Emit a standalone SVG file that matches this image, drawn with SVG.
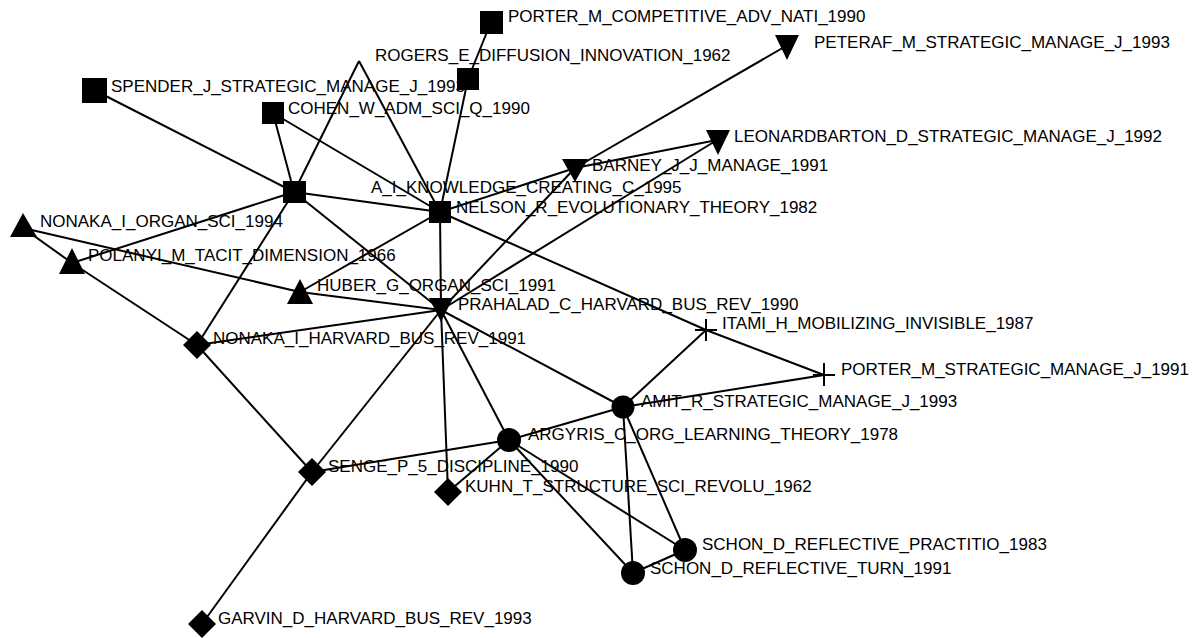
<svg xmlns="http://www.w3.org/2000/svg" width="1200" height="638" viewBox="0 0 1200 638">
<style>
.e{stroke:#000;stroke-width:2;fill:none}
.n{fill:#000}
.p{stroke:#000;stroke-width:2;fill:none}
text{font-family:"Liberation Sans",Arial,sans-serif;font-size:17px;fill:#000}
</style>
<rect width="1200" height="638" fill="#fff"/>
<g id="connectors">
<line class="e" x1="294" y1="192" x2="94" y2="90"/>
<line class="e" x1="294" y1="192" x2="273" y2="113"/>
<line class="e" x1="294" y1="192" x2="359" y2="61"/>
<line class="e" x1="294" y1="192" x2="440" y2="212"/>
<line class="e" x1="294" y1="192" x2="441" y2="310"/>
<line class="e" x1="294" y1="192" x2="197" y2="345"/>
<line class="e" x1="294" y1="192" x2="72" y2="263"/>
<line class="e" x1="273" y1="113" x2="440" y2="212"/>
<line class="e" x1="359" y1="61" x2="440" y2="212"/>
<line class="e" x1="468" y1="79" x2="440" y2="212"/>
<line class="e" x1="491" y1="22" x2="468" y2="79"/>
<line class="e" x1="440" y1="212" x2="300" y2="292"/>
<line class="e" x1="440" y1="212" x2="441" y2="310"/>
<line class="e" x1="440" y1="212" x2="706" y2="330"/>
<line class="e" x1="706" y1="330" x2="824" y2="375"/>
<line class="e" x1="440" y1="212" x2="575" y2="168"/>
<line class="e" x1="23" y1="228" x2="72" y2="263"/>
<line class="e" x1="23" y1="228" x2="300" y2="292"/>
<line class="e" x1="300" y1="292" x2="441" y2="310"/>
<line class="e" x1="72" y1="263" x2="197" y2="345"/>
<line class="e" x1="197" y1="345" x2="441" y2="310"/>
<line class="e" x1="197" y1="345" x2="312" y2="472"/>
<line class="e" x1="312" y1="472" x2="441" y2="310"/>
<line class="e" x1="312" y1="472" x2="202" y2="624"/>
<line class="e" x1="312" y1="472" x2="509" y2="440"/>
<line class="e" x1="441" y1="310" x2="448" y2="492"/>
<line class="e" x1="441" y1="310" x2="509" y2="440"/>
<line class="e" x1="441" y1="310" x2="623" y2="407"/>
<line class="e" x1="441" y1="310" x2="575" y2="168"/>
<line class="e" x1="441" y1="310" x2="717" y2="140"/>
<line class="e" x1="448" y1="492" x2="509" y2="440"/>
<line class="e" x1="509" y1="440" x2="623" y2="407"/>
<line class="e" x1="509" y1="440" x2="685" y2="550"/>
<line class="e" x1="509" y1="440" x2="633" y2="573"/>
<line class="e" x1="623" y1="407" x2="633" y2="573"/>
<line class="e" x1="623" y1="407" x2="685" y2="550"/>
<line class="e" x1="633" y1="573" x2="685" y2="550"/>
<line class="e" x1="623" y1="407" x2="706" y2="330"/>
<line class="e" x1="623" y1="407" x2="824" y2="375"/>
<line class="e" x1="575" y1="168" x2="717" y2="140"/>
<line class="e" x1="575" y1="168" x2="786" y2="46"/>
</g>
<g id="n-rogers"><text x="375" y="61">ROGERS_E_DIFFUSION_INNOVATION_1962</text></g>
<g id="n-aikc"><text x="371" y="193">A_I_KNOWLEDGE_CREATING_C_1995</text></g>
<g id="n-porter-comp"><rect class="n" x="480" y="11" width="23" height="23"/><text x="508" y="22">PORTER_M_COMPETITIVE_ADV_NATI_1990</text></g>
<g id="n-spender"><rect class="n" x="82" y="78" width="25" height="25"/><text x="111" y="92">SPENDER_J_STRATEGIC_MANAGE_J_1993</text></g>
<g id="n-cohen"><rect class="n" x="262" y="102" width="22" height="22"/><text x="288" y="114">COHEN_W_ADM_SCI_Q_1990</text></g>
<g id="n-hub"><rect class="n" x="283" y="181" width="23" height="22"/></g>
<g id="n-nelson"><rect class="n" x="429" y="201" width="22" height="22"/><text x="456" y="213">NELSON_R_EVOLUTIONARY_THEORY_1982</text></g>
<g id="n-barney"><polygon class="n" points="562,159 588,159 575,182"/><text x="592" y="171">BARNEY_J_J_MANAGE_1991</text></g>
<g id="n-leonard"><polygon class="n" points="706,130 730,130 718,155"/><text x="734" y="142">LEONARDBARTON_D_STRATEGIC_MANAGE_J_1992</text></g>
<g id="n-peteraf"><polygon class="n" points="775,35 799,35 787,60"/><text x="814" y="48">PETERAF_M_STRATEGIC_MANAGE_J_1993</text></g>
<g id="n-nonaka-organ"><polygon class="n" points="10,237 37,237 23,213"/><text x="40" y="227">NONAKA_I_ORGAN_SCI_1994</text></g>
<g id="n-polanyi"><polygon class="n" points="59,274 85,274 72,248"/><text x="88" y="261">POLANYI_M_TACIT_DIMENSION_1966</text></g>
<g id="n-huber"><polygon class="n" points="287,304 313,304 300,279"/><text x="317" y="291">HUBER_G_ORGAN_SCI_1991</text></g>
<g id="n-prahalad"><polygon class="n" points="429,298 453,298 441,322"/><text x="458" y="310">PRAHALAD_C_HARVARD_BUS_REV_1990</text></g>
<g id="n-itami"><path class="p" d="M695,330H717M706,319V341"/><text x="722" y="329">ITAMI_H_MOBILIZING_INVISIBLE_1987</text></g>
<g id="n-porter-strat"><path class="p" d="M813,375H835M824,363V386"/><text x="841" y="375">PORTER_M_STRATEGIC_MANAGE_J_1991</text></g>
<g id="n-amit"><circle class="n" cx="623" cy="407" r="11.5"/><text x="641" y="407">AMIT_R_STRATEGIC_MANAGE_J_1993</text></g>
<g id="n-argyris"><circle class="n" cx="509" cy="440" r="12"/><text x="528" y="440">ARGYRIS_C_ORG_LEARNING_THEORY_1978</text></g>
<g id="n-nonaka-harvard"><polygon class="n" points="197,331 211,345 197,359 183,345"/><text x="213" y="344">NONAKA_I_HARVARD_BUS_REV_1991</text></g>
<g id="n-senge"><polygon class="n" points="312,458 326,472 312,486 298,472"/><text x="328" y="472">SENGE_P_5_DISCIPLINE_1990</text></g>
<g id="n-kuhn"><polygon class="n" points="448,478 462,492 448,506 434,492"/><text x="465" y="492">KUHN_T_STRUCTURE_SCI_REVOLU_1962</text></g>
<g id="n-schon-p"><circle class="n" cx="685" cy="550" r="12"/><text x="702" y="550">SCHON_D_REFLECTIVE_PRACTITIO_1983</text></g>
<g id="n-schon-t"><circle class="n" cx="633" cy="573" r="12"/><text x="650" y="574">SCHON_D_REFLECTIVE_TURN_1991</text></g>
<g id="n-garvin"><polygon class="n" points="202,610 216,624 202,638 188,624"/><text x="218" y="624">GARVIN_D_HARVARD_BUS_REV_1993</text></g>
<g id="n-square2"><rect class="n" x="457" y="68" width="22" height="22"/></g>
</svg>
